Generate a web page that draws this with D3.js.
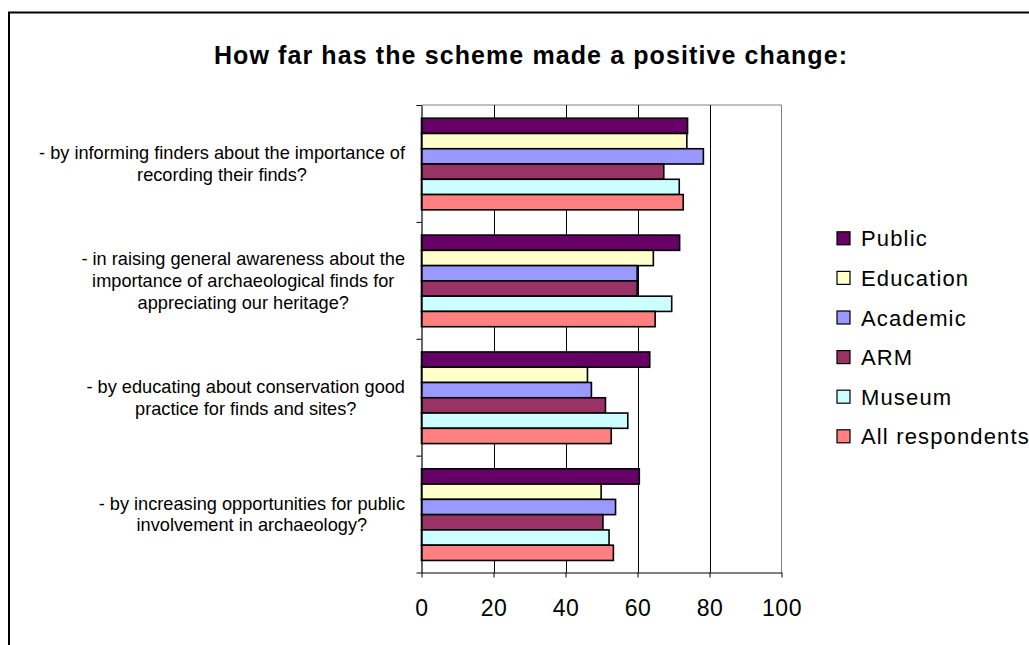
<!DOCTYPE html>
<html>
<head>
<meta charset="utf-8">
<script src="https://cdn.jsdelivr.net/npm/d3@7"></script>
<style>
  html, body { margin: 0; padding: 0; background: #fff; }
  svg { display: block; font-family: "Liberation Sans", Arial, sans-serif; }
</style>
</head>
<body>
<svg id="chart" width="1029" height="645"></svg>
<script>
// ---- data ----
const chartTitle = "How far has the scheme made a positive change:";
const categories = [
  "- by informing finders about the importance of\nrecording their finds?",
  "- in raising general awareness about the\nimportance of archaeological finds for\nappreciating our heritage?",
  "- by educating about conservation good\npractice for finds and sites?",
  "- by increasing opportunities for public\ninvolvement in archaeology?"
];
const seriesNames = ["Public", "Education", "Academic", "ARM", "Museum", "All respondents"];
const publicValues    = [73.9, 71.7, 63.4, 60.5];
const educationValues = [73.7, 64.4, 46.1, 49.9];
const academicValues  = [78.3, 59.9, 47.2, 53.9];
const armValues       = [67.3, 59.9, 51.1, 50.4];
const museumValues    = [71.6, 69.5, 57.3, 52.1];
const allValues       = [72.7, 64.9, 52.7, 53.3];
const seriesColors = ["#660066", "#FFFFCC", "#9999FF", "#993366", "#CCFFFF", "#FF8080"];
const xTicks = [0, 20, 40, 60, 80, 100];

const seriesValues = [publicValues, educationValues, academicValues, armValues, museumValues, allValues];

// ---- layout ----
const svg = d3.select("#chart");
const plot = { left: 421.5, right: 781.5, top: 105, bottom: 572.5 };

// outer frame (left + top borders visible)
svg.append("path")
  .attr("d", "M9,645 L9,12.5 L1029,12.5")
  .attr("fill", "none").attr("stroke", "#000").attr("stroke-width", 2);

// title
svg.append("text")
  .attr("x", 531).attr("y", 64)
  .attr("text-anchor", "middle")
  .attr("font-size", 25).attr("font-weight", "bold")
  .attr("letter-spacing", 1.1)
  .text(chartTitle);

const x = d3.scaleLinear().domain([0, 100]).range([plot.left, plot.right]);
const y0 = d3.scaleBand().domain(d3.range(categories.length)).range([plot.top, plot.bottom]).padding(0);
const bw = y0.bandwidth();
const y1 = d3.scaleBand().domain(d3.range(seriesNames.length)).range([bw * 0.113, bw * 0.897]).padding(0);

// plot border (gray) top and right
svg.append("path")
  .attr("d", `M${plot.left},${plot.top} L${plot.right},${plot.top} L${plot.right},${plot.bottom}`)
  .attr("fill", "none").attr("stroke", "#808080").attr("stroke-width", 1);

// gridlines
svg.append("g").selectAll("line")
  .data(xTicks.filter(t => t > 0 && t < 100))
  .join("line")
  .attr("x1", d => Math.round(x(d)) + 0.5).attr("x2", d => Math.round(x(d)) + 0.5)
  .attr("y1", plot.top).attr("y2", plot.bottom)
  .attr("stroke", "#000").attr("stroke-width", 1);

// bars
const groups = svg.append("g").selectAll("g")
  .data(categories.map((c, i) => i))
  .join("g")
  .attr("transform", i => `translate(0,${y0(i)})`);

groups.selectAll("rect")
  .data(i => seriesValues.map((vals, s) => ({ s, v: vals[i] })))
  .join("rect")
  .attr("x", x(0))
  .attr("y", d => y1(d.s))
  .attr("width", d => x(d.v) - x(0))
  .attr("height", y1.bandwidth())
  .attr("fill", d => seriesColors[d.s])
  .attr("stroke", "#000").attr("stroke-width", 1.6);

// x axis
const xAxis = svg.append("g")
  .attr("transform", `translate(0,${plot.bottom})`)
  .call(d3.axisBottom(x).tickValues(xTicks).tickSize(5).tickSizeOuter(0));
xAxis.select(".domain").attr("stroke", "#000").attr("stroke-width", 1.2);
xAxis.selectAll(".tick line").attr("stroke", "#000");
xAxis.selectAll(".tick text")
  .attr("y", 43).attr("dy", 0)
  .attr("font-size", 23).attr("letter-spacing", 0.5)
  .attr("font-family", "Liberation Sans, Arial, sans-serif")
  .attr("fill", "#000");

// y axis: line + ticks at category boundaries
const boundaries = categories.map((c, i) => y0(i)).concat([plot.bottom]);
const yAxisScale = d3.scaleLinear().domain([plot.top, plot.bottom]).range([plot.top, plot.bottom]);
const yAxis = svg.append("g")
  .attr("transform", `translate(${plot.left},0)`)
  .call(d3.axisLeft(yAxisScale).tickValues(boundaries).tickSize(5).tickSizeOuter(0).tickFormat(""));
yAxis.select(".domain").attr("stroke", "#000").attr("stroke-width", 1.2);
yAxis.selectAll(".tick line").attr("stroke", "#000");

// category labels (multi-line, centered block, right edge ~405)
const labelRight = 405;
const lineH = 21.8;
categories.forEach((c, i) => {
  const lines = c.split("\n");
  const t = svg.append("text")
    .attr("font-size", 18.2)
    .attr("fill", "#000")
    .attr("text-anchor", "middle");
  const cy = y0(i) + bw / 2;
  const spans = t.selectAll("tspan").data(lines).join("tspan")
    .attr("y", (d, k) => cy + (k - (lines.length - 1) / 2) * lineH + 6.5)
    .text(d => d);
  let maxW = 0;
  spans.each(function () { maxW = Math.max(maxW, this.getComputedTextLength()); });
  spans.attr("x", labelRight - maxW / 2);
});

// legend
const legend = svg.append("g");
const legendRows = legend.selectAll("g").data(seriesNames).join("g")
  .attr("transform", (d, i) => `translate(837,${238.3 + i * 39.6})`);
legendRows.append("rect")
  .attr("x", 0).attr("y", -6.5).attr("width", 13).attr("height", 13)
  .attr("fill", (d, i) => seriesColors[i])
  .attr("stroke", "#000").attr("stroke-width", 1.2);
legendRows.append("text")
  .attr("x", 24).attr("y", 8)
  .attr("font-size", 22).attr("letter-spacing", 1.15)
  .attr("fill", "#000")
  .text(d => d);
</script>
</body>
</html>
